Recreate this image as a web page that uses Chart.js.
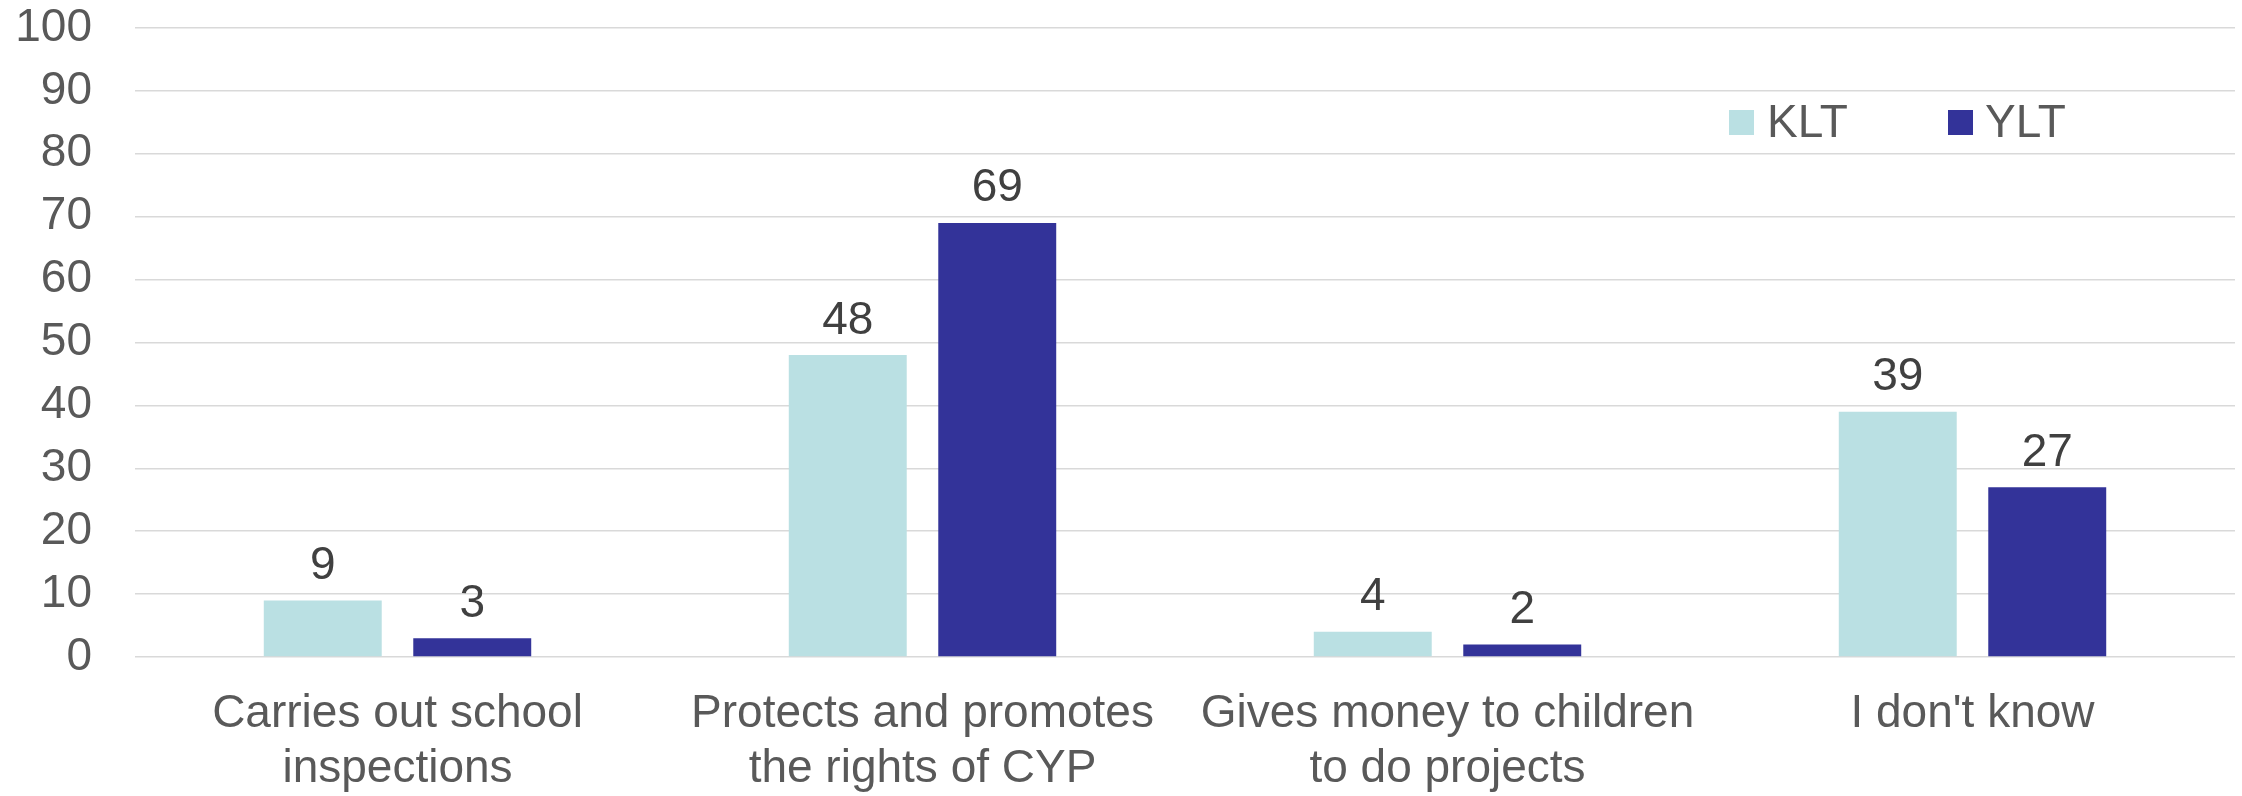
<!DOCTYPE html>
<html>
<head>
<meta charset="utf-8">
<script src="https://cdn.jsdelivr.net/npm/chart.js@4"></script>
<style>
  html, body { margin: 0; padding: 0; background: #ffffff; }
  #wrap { position: relative; width: 2242px; height: 796px; }
  #legend { position: absolute; left: 0; top: 0; font-family: "Liberation Sans", Arial, sans-serif; font-size: 46px; color: #595959; }
  .lg-box { position: absolute; width: 25px; height: 25px; }
  .lg-text { position: absolute; line-height: 46px; white-space: nowrap; }
</style>
</head>
<body>
<div id="wrap">
  <canvas id="c" width="2242" height="796"></canvas>
  <div id="legend"></div>
</div>
<script>
const categories = [
  ['Carries out school', 'inspections'],
  ['Protects and promotes', 'the rights of CYP'],
  ['Gives money to children', 'to do projects'],
  ["I don't know"]
];
const seriesNames = ['KLT', 'YLT'];
const kltValues = [9, 48, 4, 39];
const yltValues = [3, 69, 2, 27];
const yTicks = [0, 10, 20, 30, 40, 50, 60, 70, 80, 90, 100];
const seriesColors = ['#BAE0E3', '#333399'];

const FONT = '"Liberation Sans", Arial, sans-serif';

const valueLabels = {
  id: 'valueLabels',
  afterDatasetsDraw(chart) {
    const ctx = chart.ctx;
    ctx.save();
    ctx.font = '46px ' + FONT;
    ctx.fillStyle = '#404040';
    ctx.textAlign = 'center';
    ctx.textBaseline = 'alphabetic';
    chart.data.datasets.forEach((ds, di) => {
      const meta = chart.getDatasetMeta(di);
      meta.data.forEach((bar, i) => {
        ctx.fillText(String(ds.data[i]), bar.x, bar.y - 21.5);
      });
    });
    ctx.restore();
  }
};

const chart = new Chart(document.getElementById('c'), {
  type: 'bar',
  data: {
    labels: categories,
    datasets: [
      { label: seriesNames[0], data: kltValues, backgroundColor: seriesColors[0], categoryPercentage: 0.5695, barPercentage: 0.789 },
      { label: seriesNames[1], data: yltValues, backgroundColor: seriesColors[1], categoryPercentage: 0.5695, barPercentage: 0.789 }
    ]
  },
  options: {
    responsive: false,
    animation: false,
    devicePixelRatio: 1,
    layout: { padding: { left: 15, right: 7, top: 28, bottom: 0 } },
    plugins: {
      legend: { display: false },
      tooltip: { enabled: false }
    },
    scales: {
      x: {
        grid: { display: false, drawTicks: false },
        border: { display: false },
        ticks: {
          color: '#595959',
          font: { family: FONT, size: 46, lineHeight: 1.2 },
          padding: 30,
          maxRotation: 0,
          autoSkip: false
        },
        afterFit(scale) {
          scale.height = 139;
          scale.paddingLeft = 0;
          scale.paddingRight = 0;
        }
      },
      y: {
        min: 0,
        max: 100,
        afterBuildTicks(scale) { scale.ticks = yTicks.map(v => ({ value: v })); },
        grid: { color: '#d9d9d9', lineWidth: 1.5, drawTicks: false },
        border: { display: false },
        ticks: {
          color: '#595959',
          font: { family: FONT, size: 46, lineHeight: 1.2 },
          padding: 43,
          autoSkip: false
        },
        afterFit(scale) {
          scale.width = 120;
          scale.paddingTop = 0;
          scale.paddingBottom = 0;
        }
      }
    }
  },
  plugins: [valueLabels]
});

// Legend (HTML text) built from the series names and colours
const legend = document.getElementById('legend');
const legendPos = [{ box: 1729, text: 1767 }, { box: 1948, text: 1985 }];
seriesNames.forEach((name, i) => {
  const b = document.createElement('div');
  b.className = 'lg-box';
  b.style.left = legendPos[i].box + 'px';
  b.style.top = '110px';
  b.style.background = seriesColors[i];
  legend.appendChild(b);
  const t = document.createElement('div');
  t.className = 'lg-text';
  t.style.left = legendPos[i].text + 'px';
  t.style.top = '98px';
  t.textContent = name;
  legend.appendChild(t);
});
</script>
</body>
</html>
